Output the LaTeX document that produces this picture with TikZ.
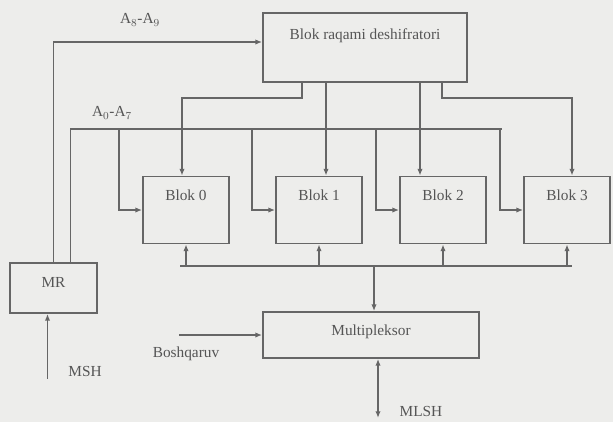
\documentclass[tikz,border=0pt]{standalone}
\usepackage{fontspec}
\setmainfont{Liberation Serif}
\usetikzlibrary{arrows.meta,positioning,calc}
\definecolor{paper}{HTML}{EDEDEB}
\definecolor{ink}{HTML}{666666}
\definecolor{txt}{HTML}{555555}

\begin{document}
\begin{tikzpicture}[x=0.75pt, y=-0.75pt, font=\fontsize{11.5}{13}\selectfont, >={Latex[length=5pt,width=4pt]},
  box/.style={draw=ink, line width=1.4pt, inner sep=0pt},
  blk/.style={box, minimum width=64.5pt, minimum height=50.25pt},
  wire/.style={draw=ink, line width=1pt},
  every node/.append style={text=txt}]
  \fill[paper] (0,0) rectangle (613,422);
  \useasboundingbox (0,0) rectangle (613,422);

  % boxes
  \node[box, minimum width=153pt, minimum height=51.75pt,
        label={[anchor=north, yshift=-9pt]north:Blok raqami deshifratori}] (dec) at (365,47.5) {};
  \foreach \i/\x in {0/186,1/319,2/443,3/567}
    \node[blk, label={[anchor=north, yshift=-7pt]north:Blok \i}] (b\i) at (\x,210) {};
  \node[box, minimum width=65.25pt, minimum height=37.5pt,
        label={[anchor=north, yshift=-8pt]north:MR}] (mr) at (53.5,288) {};
  \node[box, minimum width=162pt, minimum height=34.5pt,
        label={[anchor=north, yshift=-7pt]north:Multipleksor}] (mux) at (371,335) {};

  % address lines from MR
  \draw[wire,->] (mr.north) |- ($(dec.west)+(0,-5.5)$);
  \node at (140,20) {A$_8$-A$_9$};
  \coordinate (mrb) at ($(mr.north)+(17,0)$);
  \coordinate (abus) at (502,129);
  \draw[wire] (mrb) |- (abus);
  \node at (112,113) {A$_0$-A$_7$};
  \foreach \i in {0,...,3} {
    \coordinate (t\i) at ($(b\i.west)+(-23,0)$);
    \draw[wire,->] (t\i |- abus) -- (t\i) -- (b\i.west);
  }

  % decoder outputs
  \draw[wire,->] ($(dec.south)+(-63,0)$) -- ++(0,15) -| ($(b0.north)+(-4,0)$);
  \coordinate (d1) at ($(b1.north)+(7,0)$);
  \draw[wire,->] (d1 |- dec.south) -- (d1);
  \coordinate (d2) at ($(b2.north)+(-23,0)$);
  \draw[wire,->] (d2 |- dec.south) -- (d2);
  \draw[wire,->] ($(dec.south)+(77,0)$) -- ++(0,15) -| ($(b3.north)+(5,0)$);

  % data bus to multiplexer
  \coordinate (dbus) at (374,266);
  \draw[wire] ($(b0.south |- dbus)+(-6,0)$) -- ($(b3.south |- dbus)+(5,0)$);
  \foreach \i in {0,...,3}
    \draw[wire,->] (b\i.south |- dbus) -- (b\i.south);
  \draw[wire,->] (dbus) -- (dbus |- mux.north);

  % control, MLSH, MSH
  \coordinate (ctl) at ($(mux.west)+(-83,0)$);
  \draw[wire,->] (ctl) -- (mux.west);
  \node at (186,354) {Boshqaruv};
  \coordinate (mls) at ($(mux.south)+(7,0)$);
  \coordinate (mlsh) at ($(mls)+(0,59)$);
  \draw[wire,<->] (mls) -- (mlsh);
  \node at (421,411) {MLSH};
  \coordinate (msh) at ($(mr.south)+(-6,65)$);
  \draw[wire,->] (msh) -- (msh |- mr.south);
  \node at (85,371) {MSH};
\end{tikzpicture}
\end{document}
